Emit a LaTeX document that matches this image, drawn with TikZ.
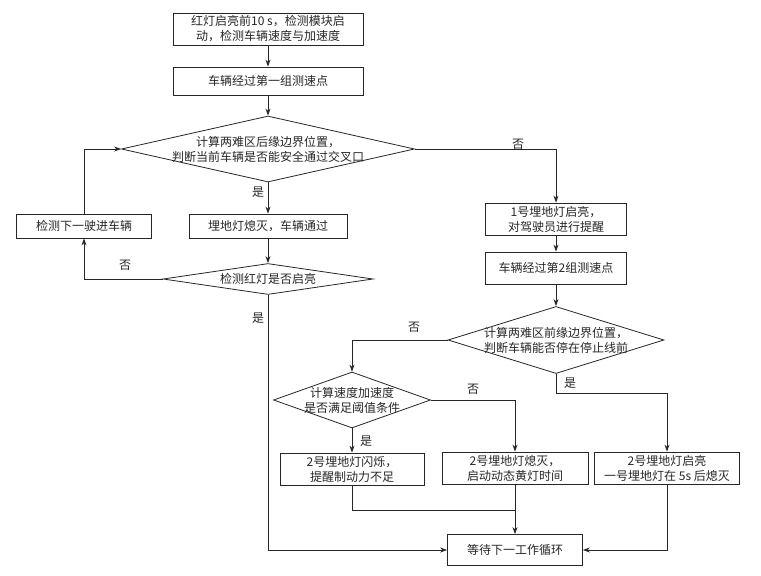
\documentclass[tikz,border=0pt]{standalone}
\usepackage{fontspec}
\setmainfont{Noto Sans CJK SC}
\usetikzlibrary{shapes.geometric,arrows.meta}
\begin{document}
\begin{tikzpicture}[x=1pt,y=-1pt,
  font=\fontsize{12}{15}\selectfont,
  every node/.style={text=black!85},
  box/.style={draw=black!85, line width=0.8pt, inner sep=0pt, align=center},
  dia/.style={draw=black!85, diamond, inner sep=0pt, line width=0.8pt},
  arr/.style={draw=black!85, -{Stealth[length=7pt,width=5pt]}, line width=0.8pt},
  ln/.style={draw=black!85, line width=0.8pt},
  lbl/.style={inner sep=0pt}]
\useasboundingbox (0,0) rectangle (761,576);

% boxes
\node[box, minimum width=190pt, minimum height=32pt] (b1) at (268,29) {红灯启亮前10 s，检测模块启\\动，检测车辆速度与加速度};
\node[box, minimum width=190pt, minimum height=28pt] (b2) at (268,81) {车辆经过第一组测速点};
\node[dia, minimum width=293pt, minimum height=66pt,
  label={[align=center]center:{计算两难区后缘边界位置，\\判断当前车辆是否能安全通过交叉口}}] (d1) at (268,149) {};
\node[box, minimum width=158pt, minimum height=24pt] (bm) at (268,226) {埋地灯熄灭，车辆通过};
\node[box, minimum width=135pt, minimum height=24pt] (bn) at (84,226) {检测下一驶进车辆};
\node[dia, minimum width=210pt, minimum height=31pt,
  label={[align=center]center:{检测红灯是否启亮}}] (d2) at (268,279) {};
\node[box, minimum width=141pt, minimum height=32pt] (bh) at (556,219) {1号埋地灯启亮，\\对驾驶员进行提醒};
\node[box, minimum width=141pt, minimum height=32pt] (bz) at (556,268) {车辆经过第2组测速点};
\node[dia, minimum width=216pt, minimum height=67pt,
  label={[align=center]center:{计算两难区前缘边界位置，\\判断车辆能否停在停止线前}}] (d3) at (556,340) {};
\node[dia, minimum width=157pt, minimum height=56pt,
  label={[align=center]center:{计算速度加速度\\是否满足阈值条件}}] (d4) at (352,400) {};
\node[box, minimum width=144pt, minimum height=32pt] (bs) at (352,469) {2号埋地灯闪烁，\\提醒制动力不足};
\node[box, minimum width=146pt, minimum height=32pt] (bx) at (515,468) {2号埋地灯熄灭，\\启动动态黄灯时间};
\node[box, minimum width=145pt, minimum height=32pt] (bq) at (667,468) {2号埋地灯启亮\\一号埋地灯在 5s 后熄灭};
\node[box, minimum width=135pt, minimum height=31pt] (be) at (515,550) {等待下一工作循环};

% connectors
\draw[arr] (b1) -- (b2);
\draw[arr] (b2) -- (d1);
\draw[arr] (d1.south) -- (bm.north);
\draw[arr] (bm.south) -- (d2.north);
\draw[arr] (d2.west) -| (bn.south);
\draw[arr] (bn.north) |- (d1.west);
\draw[arr] (d1.east) -| (bh.north);
\draw[arr] (bh) -- (bz);
\draw[arr] (bz.south) -- (d3.north);
\draw[arr] (d3.west) -| (d4.north);
\draw[arr] (d4.east) -| (bx.north);
\draw[arr] (d4.south) -- (bs.north);
\coordinate (k3) at (556,393);
\draw[arr] (d3.south) -- (k3) -| (bq.north);
\draw[arr] (d2.south) |- (be.west);
\coordinate (j) at (515,510);
\draw[ln] (bs.south) |- (j);
\draw[arr] (bx.south) -- (be.north);
\draw[arr] (bq.south) |- (be.east);

% labels
\node[lbl] (l1) at (258,192) {是};
\node[lbl] (l2) at (125,265) {否};
\node[lbl] (l3) at (258,318) {是};
\node[lbl] (l4) at (518,144) {否};
\node[lbl] (l5) at (414,327) {否};
\node[lbl] (l6) at (473,389) {否};
\node[lbl] (l7) at (366,441) {是};
\node[lbl] (l8) at (570,383) {是};
\end{tikzpicture}
\end{document}
